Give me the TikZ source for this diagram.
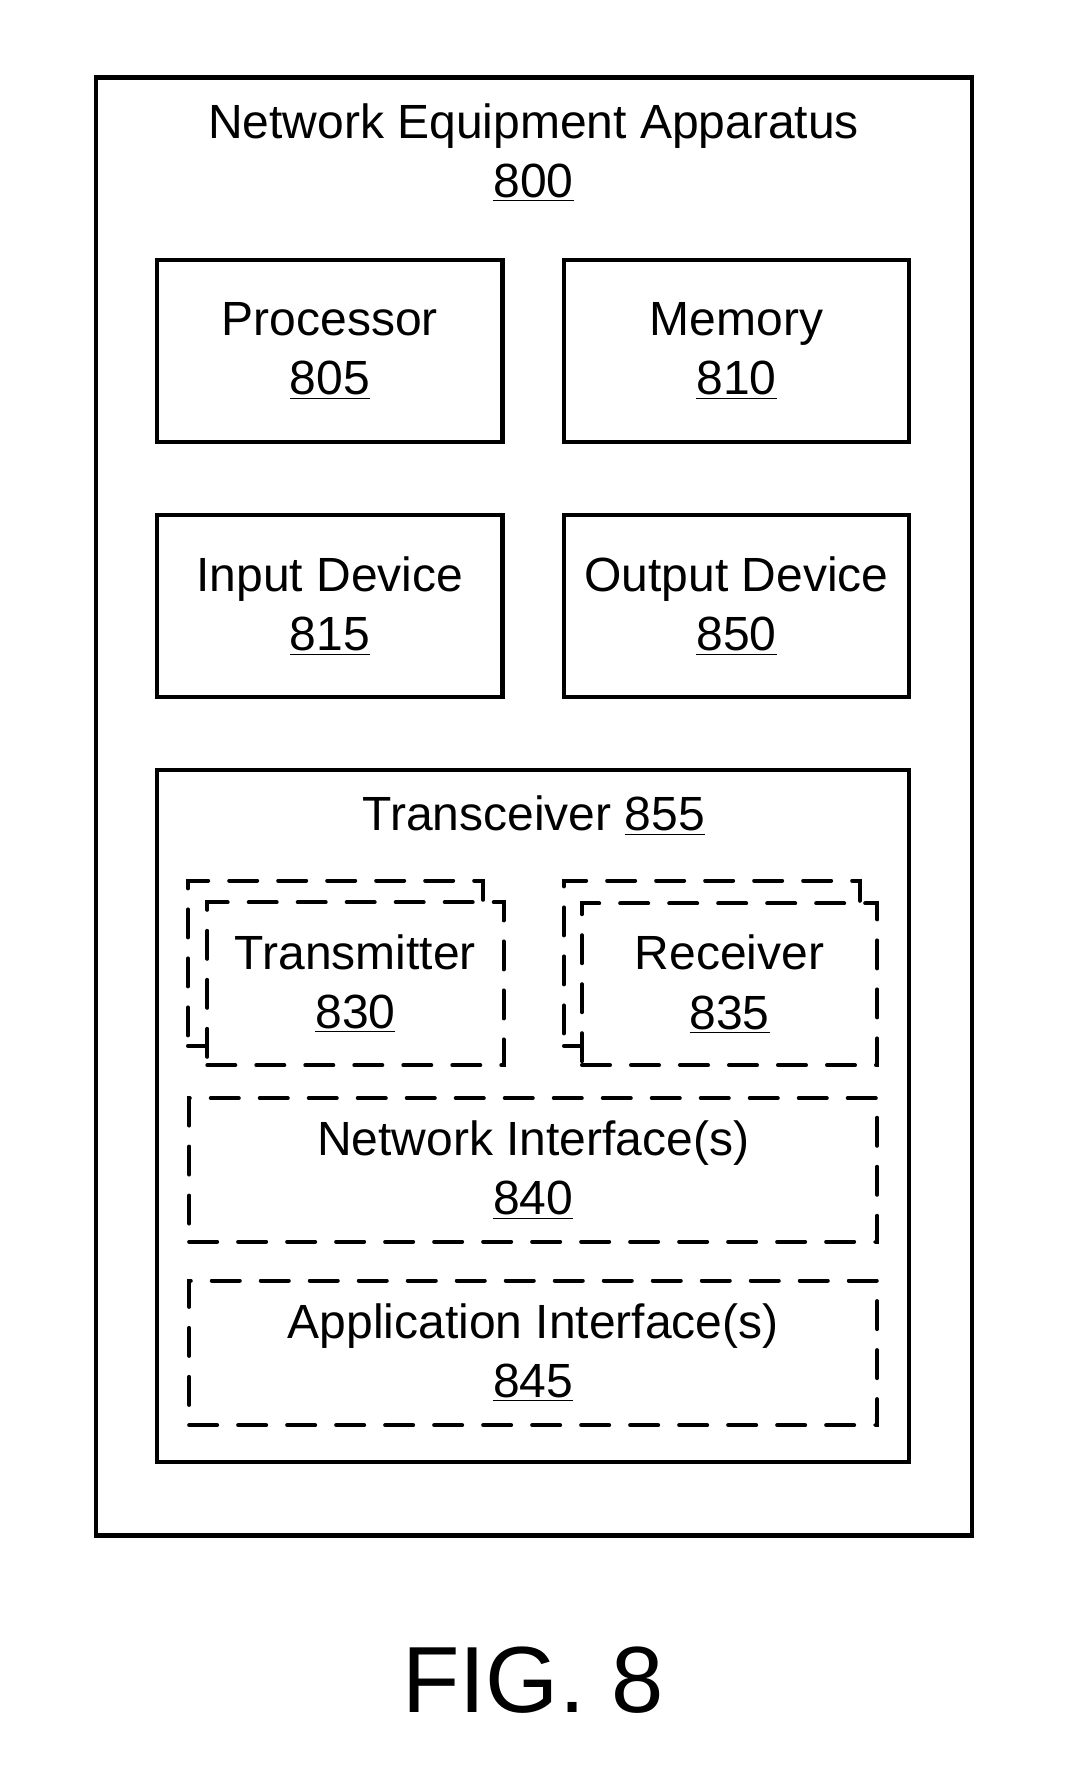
\documentclass[tikz,border=0pt]{standalone}
\usepackage{fontspec}
\setmainfont{Liberation Sans}
\usepackage{tikz}
\usetikzlibrary{positioning}

\begin{document}
\begin{tikzpicture}[
  x=0.5pt, y=-0.5pt,
  box/.style={rectangle, draw=black, line width=2.1pt, fill=white,
              minimum width=172.6pt, minimum height=91.2pt,
              align=center, inner sep=0pt, font=\fontsize{24}{29.6}\selectfont},
  dashbox/.style={rectangle, draw=black, line width=2pt, fill=white,
                  dash pattern=on 14pt off 10.5pt, line cap=round,
                  align=center, inner sep=0pt, font=\fontsize{24}{29.6}\selectfont},
  title/.style={align=center, inner sep=0pt, font=\fontsize{24}{29.6}\selectfont}
]
\useasboundingbox (0,0) rectangle (1080,1787);

%% Apparatus
\node[box, minimum width=438pt, minimum height=729pt] (app) at (533.75,806.55) {};
\node[title] (apptitle) at (533.5,152.5) {Network Equipment Apparatus\\\underline{800}};

%% Row 1
\node[box] (proc) at (329.8,350.85) {Processor\\\underline{805}};
\node[box] (mem)  at (736.5,350.85) {Memory\\\underline{810}};

%% Row 2
\node[box] (indev)  at (329.8,606.05) {Input Device\\\underline{815}};
\node[box] (outdev) at (736.5,606.05) {Output Device\\\underline{850}};

%% Transceiver
\node[box, minimum width=376pt, minimum height=345.8pt] (trx) at (533.15,1115.85) {};
\node[title] (trxtitle) at (533.7,815.5) {Transceiver \underline{855}};

%% Transmitter / Receiver (stacked)
\node[dashbox, minimum width=147.5pt, minimum height=82.6pt] (txback) at (335.5,963.2) {};
\node[dashbox, minimum width=148.1pt, minimum height=81.5pt] (tx) at (355.4,983.7) {Transmitter\\\underline{830}};
\node[dashbox, minimum width=148pt, minimum height=82.6pt] (rxback) at (711.95,963.2) {};
\node[dashbox, minimum width=147.6pt, minimum height=80.9pt] (rx) at (729.6,984.3) {Receiver\\\underline{835}};

%% Interfaces
\node[dashbox, minimum width=344pt, minimum height=71.8pt] (netif) at (533.15,1169.95) {Network Interface(s)\\\underline{840}};
\node[dashbox, minimum width=344pt, minimum height=72.3pt] (appif) at (533.15,1352.8) {Application Interface(s)\\\underline{845}};

%% Caption
\node[inner sep=0pt, font=\fontsize{47}{56}\selectfont] (fig) at (533,1680) {FIG. 8};
\end{tikzpicture}
\end{document}
